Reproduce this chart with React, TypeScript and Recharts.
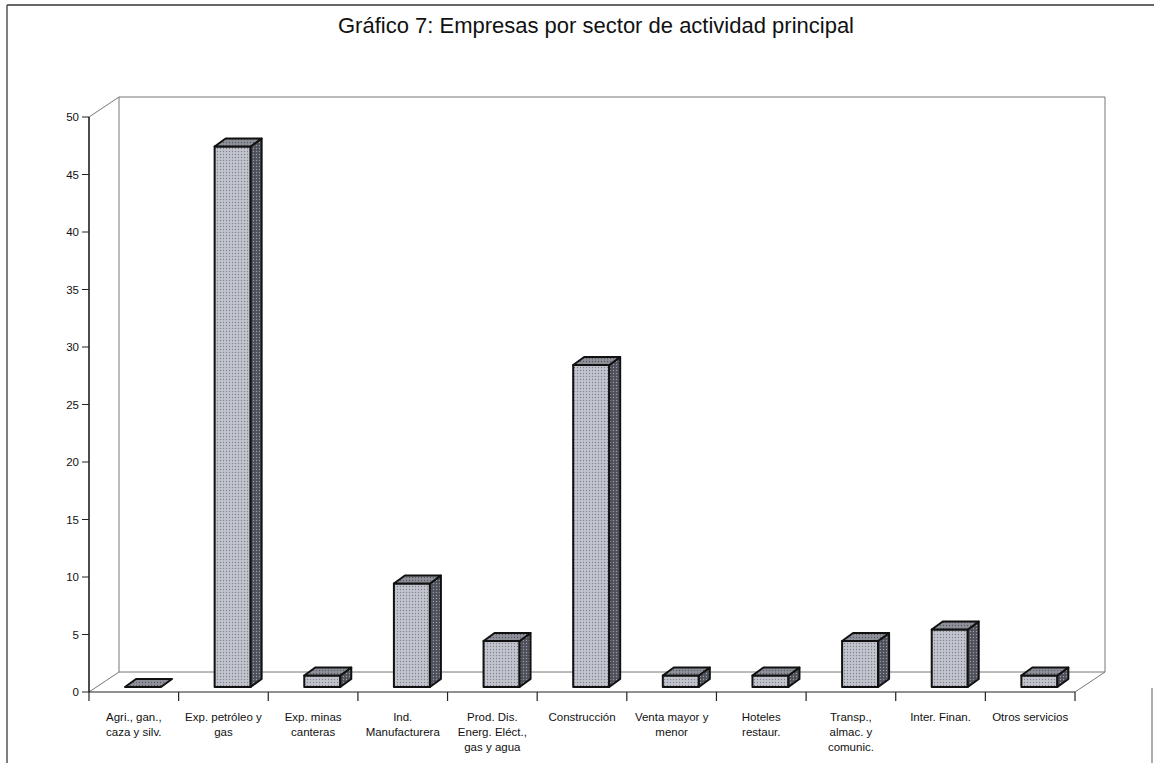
import React from "react";
import { Bar, BarChart, XAxis, YAxis } from "recharts";

const sectors = [
  "Agri., gan., caza y silv.",
  "Exp. petróleo y gas",
  "Exp. minas canteras",
  "Ind. Manufacturera",
  "Prod. Dis. Energ. Eléct., gas y agua",
  "Construcción",
  "Venta mayor y menor",
  "Hoteles restaur.",
  "Transp., almac. y comunic.",
  "Inter. Finan.",
  "Otros servicios",
];

const sectorLabelLines = [
  ["Agri., gan.,", "caza y silv."],
  ["Exp. petróleo y", "gas"],
  ["Exp. minas", "canteras"],
  ["Ind.", "Manufacturera"],
  ["Prod. Dis.", "Energ. Eléct.,", "gas y agua"],
  ["Construcción"],
  ["Venta mayor y", "menor"],
  ["Hoteles", "restaur."],
  ["Transp.,", "almac. y", "comunic."],
  ["Inter. Finan."],
  ["Otros servicios"],
];

const empresas = [0, 47, 1, 9, 4, 28, 1, 1, 4, 5, 1];

const yTicks = [0, 5, 10, 15, 20, 25, 30, 35, 40, 45, 50];

const chartData = sectors.map((sector, i) => ({ sector, empresas: empresas[i] }));

// layout
const W = 1154;
const H = 763;
const PLOT_LEFT = 89;
const PLOT_RIGHT = 1075;
const PLOT_TOP = 117;
const PLOT_BOTTOM = 692;
const SLOT = (PLOT_RIGHT - PLOT_LEFT) / sectors.length;
const WALL_DX = 30;
const WALL_DY = -20;

// bar box offsets (bars sit a bit into the floor)
const SHIFT_X = 9;
const SHIFT_Y = -5;
const BOX_DX = 11;
const BOX_DY = -8;

const FONT = "'Liberation Sans', Arial, sans-serif";

const SectorTick = (props: any) => {
  const { x, y, payload } = props;
  const idx = sectors.indexOf(payload.value);
  const lines = sectorLabelLines[idx] ?? [payload.value];
  const half = SLOT / 2;
  return (
    <g>
      <line x1={x - half} x2={x - half} y1={y} y2={y + 9} stroke="#222" strokeWidth={1.2} />
      {idx === sectors.length - 1 ? (
        <line x1={x + half} x2={x + half} y1={y} y2={y + 9} stroke="#222" strokeWidth={1.2} />
      ) : null}
      <text x={x} y={y + 29} textAnchor="middle" fontSize={11.5} fill="#111" fontFamily={FONT}>
        {lines.map((line, i) => (
          <tspan key={i} x={x} dy={i === 0 ? 0 : 15}>
            {line}
          </tspan>
        ))}
      </text>
    </g>
  );
};

const Box3D = (props: any) => {
  const { x, y, width, height } = props;
  const h = Math.max(height || 0, 0);
  const fx = x + SHIFT_X;
  const top = y + SHIFT_Y;
  const w = width;
  const front = `M${fx},${top} h${w} v${h} h${-w} Z`;
  const topFace = `M${fx},${top} l${BOX_DX},${BOX_DY} h${w} l${-BOX_DX},${-BOX_DY} Z`;
  const side = `M${fx + w},${top} l${BOX_DX},${BOX_DY} v${h} l${-BOX_DX},${-BOX_DY} Z`;
  return (
    <g stroke="#111" strokeWidth={2} strokeLinejoin="round">
      {h > 0 ? <path d={front} fill="url(#dotsFront)" /> : null}
      {h > 0 ? <path d={side} fill="url(#dotsSide)" /> : null}
      <path d={topFace} fill="url(#dotsTop)" />
    </g>
  );
};

const Walls = () => {
  const bx = PLOT_LEFT + WALL_DX;
  const bTop = PLOT_TOP + WALL_DY;
  const bBottom = PLOT_BOTTOM + WALL_DY;
  const rx = PLOT_RIGHT + WALL_DX;
  return (
    <svg
      width={W}
      height={H}
      style={{ position: "absolute", left: 0, top: 0, pointerEvents: "none" }}
    >
      {/* page frame */}
      <line x1={7} y1={5} x2={W} y2={5} stroke="#333" strokeWidth={1.5} />
      <line x1={7} y1={5} x2={7} y2={H} stroke="#555" strokeWidth={1.5} />
      <line x1={1152} y1={688} x2={1152} y2={H} stroke="#777" strokeWidth={1.2} />
      <g stroke="#777" strokeWidth={1} fill="none">
        <line x1={PLOT_LEFT} y1={PLOT_TOP} x2={bx} y2={bTop} />
        <line x1={bx} y1={bTop} x2={rx} y2={bTop} />
        <line x1={bx} y1={bTop} x2={bx} y2={bBottom} />
        <line x1={rx} y1={bTop} x2={rx} y2={bBottom} />
        <line x1={PLOT_LEFT} y1={PLOT_BOTTOM} x2={bx} y2={bBottom} />
        <line x1={bx} y1={bBottom} x2={rx} y2={bBottom} />
        <line x1={rx} y1={bBottom} x2={PLOT_RIGHT} y2={PLOT_BOTTOM} />
      </g>
    </svg>
  );
};

const App = () => {
  return (
    <div style={{ position: "absolute", left: 0, top: 0, width: W, height: H, background: "#fff" }}>
      <Walls />
      <div
        style={{
          position: "absolute",
          left: 596,
          top: 13,
          transform: "translateX(-50%)",
          whiteSpace: "nowrap",
          fontFamily: FONT,
          fontSize: 22,
          color: "#111",
        }}
      >
        Gráfico 7: Empresas por sector de actividad principal
      </div>
      <div style={{ position: "absolute", left: 0, top: 0 }}>
        <BarChart
          width={W}
          height={H}
          data={chartData}
          margin={{ top: PLOT_TOP, right: W - PLOT_RIGHT, bottom: 0, left: 0 }}
        >
          <defs>
            <pattern id="dotsFront" width="3" height="3" patternUnits="userSpaceOnUse">
              <rect width="3" height="3" fill="#c2c5cd" />
              <circle cx="1.5" cy="1.5" r="0.7" fill="#80838d" />
            </pattern>
            <pattern id="dotsSide" width="3" height="3" patternUnits="userSpaceOnUse">
              <rect width="3" height="3" fill="#4d505a" />
              <circle cx="1.5" cy="1.5" r="0.7" fill="#9a9da6" />
            </pattern>
            <pattern id="dotsTop" width="3" height="3" patternUnits="userSpaceOnUse">
              <rect width="3" height="3" fill="#8e919a" />
              <circle cx="1.5" cy="1.5" r="0.7" fill="#55585f" />
            </pattern>
          </defs>
          <XAxis
            dataKey="sector"
            height={H - PLOT_BOTTOM}
            interval={0}
            tickLine={false}
            tickSize={0}
            tickMargin={0}
            axisLine={{ stroke: "#222", strokeWidth: 1.2 }}
            tick={<SectorTick />}
          />
          <YAxis
            width={PLOT_LEFT}
            domain={[0, 50]}
            ticks={yTicks}
            interval={0}
            tickSize={7}
            tickMargin={3}
            axisLine={{ stroke: "#111", strokeWidth: 1.5 }}
            tickLine={{ stroke: "#222" }}
            tick={{ fontSize: 11.5, fill: "#111", fontFamily: FONT }}
          />
          <Bar dataKey="empresas" barSize={36} shape={<Box3D />} isAnimationActive={false} />
        </BarChart>
      </div>
    </div>
  );
};

export default App;
